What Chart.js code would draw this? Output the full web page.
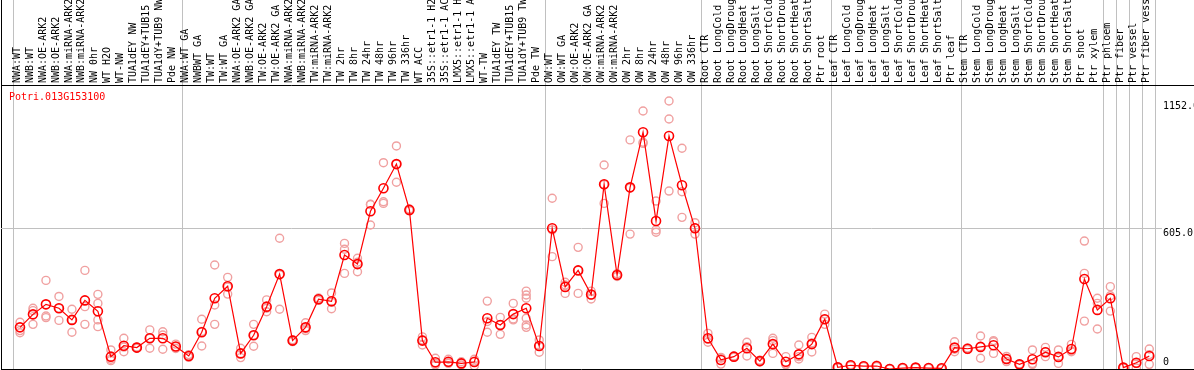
<!DOCTYPE html>
<html>
<head>
<meta charset="utf-8">
<script src="https://cdn.jsdelivr.net/npm/chart.js@4"></script>
<style>
  html, body { margin: 0; padding: 0; background: #fff; }
</style>
</head>
<body>
<canvas id="expChart" width="1194" height="370"></canvas>
<script>
// Gene shown in the plot
const geneName = 'Potri.013G153100';

// Sample names (x categories)
const samples = [
    'NWA:WT', 'NWB:WT', 'NWA:OE-ARK2', 'NWB:OE-ARK2', 'NWA:miRNA-ARK2', 'NWB:miRNA-ARK2',
    'NW 0hr', 'WT H2O', 'WT-NW', 'TUA1dEY NW', 'TUA1dEY+TUB15 NW', 'TUA1dY+TUB9 NW', 'Pde NW',
    'NWA:WT GA', 'NWBWT GA', 'TW:WT', 'TW:WT GA', 'NWA:OE-ARK2 GA', 'NWB:OE-ARK2 GA',
    'TW:OE-ARK2', 'TW:OE-ARK2 GA', 'NWA:miRNA-ARK2 GA', 'NWB:miRNA-ARK2 GA', 'TW:miRNA-ARK2',
    'TW:miRNA-ARK2 GA', 'TW 2hr', 'TW 8hr', 'TW 24hr', 'TW 48hr', 'TW 96hr', 'TW 336hr',
    'WT ACC', '35S::etr1-1 H2O', '35S::etr1-1 ACC', 'LMX5::etr1-1 H2O', 'LMX5::etr1-1 ACC',
    'WT-TW', 'TUA1dEY TW', 'TUA1dEY+TUB15 TW', 'TUA1dY+TUB9 TW', 'Pde TW',
    'OW:WT', 'OW:WT GA', 'OW:OE-ARK2', 'OW:OE-ARK2 GA', 'OW:miRNA-ARK2', 'OW:miRNA-ARK2 GA',
    'OW 2hr', 'OW 8hr', 'OW 24hr', 'OW 48hr', 'OW 96hr', 'OW 336hr',
    'Root CTR', 'Root LongCold', 'Root LongDrought', 'Root LongHeat', 'Root LongSalt',
    'Root ShortCold', 'Root ShortDrought', 'Root ShortHeat', 'Root ShortSalt', 'Ptr root',
    'Leaf CTR', 'Leaf LongCold', 'Leaf LongDrought', 'Leaf LongHeat', 'Leaf LongSalt',
    'Leaf ShortCold', 'Leaf ShortDrought', 'Leaf ShortHeat', 'Leaf ShortSalt', 'Ptr leaf',
    'Stem CTR', 'Stem LongCold', 'Stem LongDrought', 'Stem LongHeat', 'Stem LongSalt',
    'Stem ShortCold', 'Stem ShortDrought', 'Stem ShortHeat', 'Stem ShortSalt', 'Ptr shoot',
    'Ptr xylem', 'Ptr phloem', 'Ptr fiber', 'Ptr vessel', 'Ptr fiber vessel'
];

// Mean expression per sample
const means = [
    179, 235, 278, 261, 211, 295, 248, 53, 100, 92, 132, 132, 97,
    56, 158, 304, 356, 67, 145, 268, 408, 122, 179, 300, 291, 490, 451, 678, 777, 881, 684,
    122, 29, 31, 24, 30, 218, 189, 236, 261, 99,
    605, 353, 424, 320, 794, 404, 781, 1018, 636, 1002, 790, 605,
    132, 39, 53, 89, 34, 107, 31, 63, 107, 214,
    7, 16, 12, 13, 0, 4, 6, 4, 3, 92,
    87, 95, 102, 43, 20, 42, 72, 52, 86, 387, 254,
    304, 6, 27, 56
];

// Replicate values per sample
const replicates = [
    [201, 165, 156], [261, 251, 192], [381, 228, 221], [312, 261, 209], [257, 211, 158],
    [424, 268, 192], [321, 282, 211, 182], [82, 42, 36], [132, 74, 94], [91, 89, 95],
    [168, 132, 89], [160, 146, 85], [107, 96, 88],
    [50, 56, 62], [214, 99, 161], [447, 275, 192], [394, 322, 352], [89, 67, 49],
    [192, 98, 145], [297, 246, 261], [562, 257, 405], [118, 122, 126], [199, 165, 173],
    [295, 300, 305], [327, 259, 287], [540, 515, 411], [476, 418, 459], [708, 619, 707],
    [887, 719, 712], [959, 803, 881], [680, 684, 688],
    [125, 103, 138], [46, 24, 17], [42, 24, 27], [24, 17, 31], [42, 14, 34],
    [292, 158, 204], [222, 189, 149], [282, 211, 215], [335, 318, 304, 218, 189, 179],
    [125, 72, 100],
    [734, 483, 598], [373, 325, 361], [523, 325, 424], [335, 318, 301], [877, 712, 793],
    [410, 398, 404], [985, 580, 778], [1109, 970, 975], [722, 598, 588], [1152, 1075, 765],
    [949, 762, 652], [629, 580, 606],
    [153, 115, 128], [21, 46, 50], [50, 53, 56], [115, 56, 96], [30, 34, 38],
    [132, 67, 122], [53, 21, 19], [103, 53, 43], [136, 73, 112], [236, 214, 192],
    [7, 5, 9], [18, 16, 14], [12, 10, 14], [16, 10, 13], [1, 0, 2],
    [4, 3, 5], [6, 5, 7], [4, 3, 5], [3, 2, 4], [117, 74, 85],
    [84, 87, 90], [142, 46, 97], [122, 67, 117], [43, 32, 54], [18, 20, 22],
    [82, 24, 20], [93, 74, 53], [82, 24, 50], [106, 74, 78], [550, 411, 206],
    [304, 282, 172], [354, 315, 249], [4, 6, 8], [53, 24, 4], [86, 20, 62]
];

// First sample index of each group (separator drawn before it)
const groupStarts = [0, 13, 41, 53, 63, 73, 84, 85, 86, 87, 88];

// Value axis ticks
const yTickValues = [0, 605, 1152];
const yTickLabels = ['0', '605.0', '1152.0'];
const yMax = 1221;

const X_MIN = -1.464;
const X_MAX = 87.98;
const monoFont = { family: '"DejaVu Sans Mono", monospace', size: 10 };

const meanPoints = means.map((v, i) => ({ x: i, y: v }));
const repPoints = [];
replicates.forEach((arr, i) => arr.forEach(v => repPoints.push({ x: i, y: v })));

// texts inside the plot: gene name and value labels
const textPlugin = {
    id: 'plotTexts',
    afterDraw(chart) {
        const { ctx, chartArea, scales } = chart;
        ctx.save();
        ctx.font = '10px "DejaVu Sans Mono", monospace';
        ctx.textAlign = 'left';
        ctx.textBaseline = 'top';
        ctx.fillStyle = '#000';
        yTickValues.forEach((v, k) => {
            const py = Math.min(scales.y.getPixelForValue(v), chartArea.bottom - 12);
            ctx.fillText(yTickLabels[k], chartArea.right + 1, py);
        });
        ctx.fillStyle = '#ff0000';
        ctx.textBaseline = 'middle';
        ctx.fillText(geneName, chartArea.left + 8, chartArea.top + 12);
        ctx.restore();
    }
};

const ctx = document.getElementById('expChart').getContext('2d');
new Chart(ctx, {
    type: 'scatter',
    data: {
        datasets: [
            {
                type: 'line',
                label: geneName,
                data: meanPoints,
                borderColor: '#ff0000',
                borderWidth: 1.2,
                tension: 0,
                pointRadius: 4.5,
                pointBorderWidth: 1.6,
                pointBorderColor: '#ff0000',
                pointBackgroundColor: 'rgba(0,0,0,0)',
                order: 0
            },
            {
                label: 'replicates',
                data: repPoints,
                showLine: false,
                pointRadius: 4,
                pointBorderWidth: 1.4,
                pointBorderColor: '#f0a0a0',
                pointBackgroundColor: 'rgba(0,0,0,0)',
                order: 1
            }
        ]
    },
    options: {
        responsive: false,
        animation: false,
        devicePixelRatio: 1,
        layout: { autoPadding: false, padding: { left: 1, right: 0, top: 0, bottom: 1 } },
        plugins: { legend: { display: false }, tooltip: { enabled: false } },
        scales: {
            x: {
                type: 'linear',
                position: 'top',
                min: X_MIN,
                max: X_MAX,
                afterBuildTicks: s => {
                    const t = [{ value: X_MIN, kind: 'edge' }];
                    groupStarts.forEach(g => t.push({ value: g - 0.5, kind: 'sep' }));
                    samples.forEach((_, i) => t.push({ value: i, kind: 'sample' }));
                    t.sort((a, b) => a.value - b.value);
                    s.ticks = t;
                },
                afterFit: s => {
                    s.height = 85;
                    s.paddingLeft = 0;
                    s.paddingRight = 0;
                },
                ticks: {
                    autoSkip: false,
                    minRotation: 90,
                    maxRotation: 90,
                    padding: -83,
                    labelOffset: 9,
                    color: '#000',
                    font: monoFont,
                    callback: (value, index, ticks) =>
                        ticks[index].kind === 'sample' ? samples[value] : ''
                },
                grid: {
                    drawOnChartArea: true,
                    drawTicks: true,
                    tickLength: 85,
                    lineWidth: 1,
                    color: c => c.tick.kind === 'edge' ? '#000' :
                        (c.tick.kind === 'sep' ? '#c0c0c0' : 'rgba(0,0,0,0)'),
                    tickColor: c => c.tick.kind === 'edge' ? '#000' :
                        (c.tick.kind === 'sep' ? '#c0c0c0' : 'rgba(0,0,0,0)')
                },
                border: { display: false }
            },
            y: {
                position: 'right',
                min: 0,
                max: yMax,
                afterBuildTicks: s => {
                    s.ticks = yTickValues.concat([yMax]).map(v => ({ value: v }));
                },
                afterFit: s => {
                    s.width = 32;
                    s.paddingTop = 0;
                    s.paddingBottom = 0;
                },
                ticks: { display: false },
                grid: {
                    drawTicks: true,
                    tickLength: 32,
                    lineWidth: 1,
                    color: c => (c.tick.value === 0 || c.tick.value === yMax) ? '#000' :
                        (c.tick.value === 605 ? '#c0c0c0' : 'rgba(0,0,0,0)'),
                    tickColor: c => (c.tick.value === 0 || c.tick.value === yMax) ? '#000' : 'rgba(0,0,0,0)'
                },
                border: { display: false }
            }
        }
    },
    plugins: [textPlugin]
});
</script>
</body>
</html>
